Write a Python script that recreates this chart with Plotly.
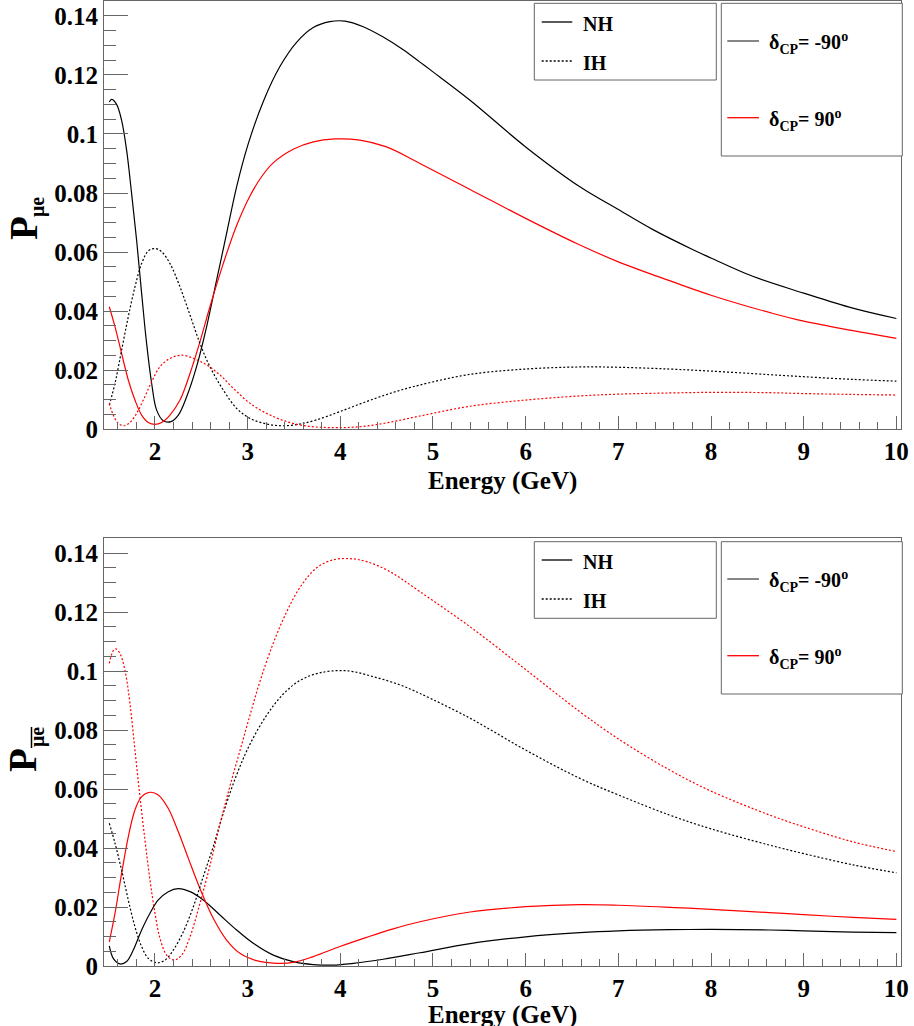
import plotly.graph_objects as go

# ---------------- data ----------------
# Top panel: P(mu->e), neutrinos
top_nh_m90_E = [1.507,1.533,1.586,1.640,1.694,1.748,1.802,1.856,1.910,1.964,2.018,2.09,2.173,2.252,2.342,2.449,2.557,2.665,2.773,2.881,3.007,3.169,3.348,3.528,3.708,3.888,4.05,4.247,4.463,4.679,4.859,5.0,5.4,6.0,6.585,7.0,7.374,7.806,8.0,8.45,9.0,9.53,10.0]
top_nh_m90_P = [0.1108,0.1117,0.110,0.1046,0.0945,0.0798,0.064,0.046,0.029,0.0156,0.0065,0.0029,0.0026,0.0048,0.011,0.0212,0.0347,0.0505,0.0663,0.0821,0.0967,0.1110,0.1228,0.1310,0.1360,0.1380,0.1382,0.1363,0.1328,0.1285,0.1243,0.1210,0.1114,0.0956,0.0821,0.0744,0.0676,0.0608,0.0580,0.0518,0.0461,0.0410,0.0375]

top_nh_p90_E = [1.507,1.569,1.640,1.712,1.784,1.856,1.928,2.0,2.072,2.162,2.27,2.378,2.485,2.593,2.737,2.881,3.025,3.15,3.276,3.492,3.708,3.942,4.211,4.499,4.859,5.4,6.0,6.55,7.0,7.59,8.0,8.67,9.0,9.53,10.0]
top_nh_p90_P = [0.0415,0.0347,0.0257,0.0167,0.0099,0.0048,0.0023,0.0017,0.0023,0.0048,0.0099,0.0189,0.0296,0.0415,0.0561,0.0690,0.0790,0.0855,0.0902,0.0948,0.0973,0.0983,0.0979,0.0956,0.0900,0.0812,0.0714,0.0629,0.0567,0.0499,0.0454,0.0392,0.0366,0.0334,0.0308]

top_ih_m90_E = [1.507,1.569,1.640,1.712,1.784,1.856,1.928,2.0,2.072,2.162,2.27,2.378,2.485,2.593,2.737,2.881,3.025,3.205,3.384,3.564,3.744,3.996,4.283,4.571,4.859,5.4,6.0,6.585,7.0,7.55,8.0,8.63,9.0,9.53,10.0]
top_ih_m90_P = [0.0082,0.0156,0.0268,0.0381,0.0482,0.0561,0.0604,0.0612,0.0601,0.0561,0.0482,0.0387,0.0291,0.0212,0.0133,0.0071,0.0037,0.0018,0.0012,0.0018,0.0032,0.006,0.0094,0.0125,0.0150,0.0186,0.0204,0.0211,0.0210,0.0204,0.0197,0.0185,0.0178,0.0169,0.0163]

top_ih_p90_E = [1.507,1.55,1.604,1.665,1.73,1.802,1.874,1.964,2.054,2.162,2.288,2.414,2.557,2.701,2.845,3.025,3.205,3.42,3.636,3.852,4.068,4.283,4.571,4.859,5.4,6.0,6.585,7.0,7.55,8.0,8.63,9.0,9.53,10.0]
top_ih_p90_P = [0.0088,0.0048,0.002,0.0012,0.0023,0.0054,0.0099,0.0161,0.0212,0.024,0.0251,0.024,0.0218,0.0184,0.0139,0.0088,0.0054,0.0026,0.0011,0.0006,0.0006,0.0011,0.0026,0.0045,0.0078,0.0099,0.0113,0.0119,0.0123,0.0125,0.0124,0.0121,0.0118,0.0116]

# Bottom panel: P(anti-mu -> anti-e), antineutrinos
bot_nh_m90_E = [1.507,1.55,1.622,1.694,1.766,1.856,1.946,2.036,2.144,2.252,2.378,2.521,2.701,2.881,3.061,3.277,3.492,3.708,3.924,4.14,4.463,4.859,5.4,6.0,6.585,7.0,7.55,8.0,8.63,9.0,9.53,10.0]
bot_nh_m90_P = [0.0068,0.0026,0.0007,0.0015,0.0054,0.0122,0.0179,0.0224,0.0252,0.0262,0.0252,0.0224,0.0173,0.0122,0.0077,0.0037,0.0015,0.0005,0.0003,0.0009,0.0023,0.0045,0.0076,0.0099,0.0113,0.0119,0.0123,0.0124,0.0122,0.0119,0.0115,0.0113]

bot_nh_p90_E = [1.507,1.569,1.640,1.712,1.784,1.856,1.946,2.036,2.144,2.252,2.36,2.485,2.629,2.773,2.917,3.097,3.312,3.492,3.708,3.996,4.283,4.571,4.859,5.4,6.0,6.585,7.0,7.55,8.0,8.63,9.0,9.53,10.0]
bot_nh_p90_P = [0.0082,0.0179,0.0314,0.0438,0.0529,0.0574,0.0589,0.058,0.0534,0.0455,0.0365,0.0263,0.0162,0.0088,0.0043,0.0018,0.0009,0.0012,0.0032,0.0066,0.0097,0.0126,0.0150,0.0183,0.0201,0.0208,0.0206,0.0199,0.0192,0.0181,0.0174,0.0165,0.0158]

bot_ih_m90_E = [1.507,1.569,1.640,1.712,1.784,1.856,1.928,2.018,2.108,2.198,2.306,2.414,2.521,2.629,2.737,2.881,3.025,3.205,3.384,3.564,3.78,4.068,4.355,4.643,4.859,5.4,6.0,6.585,7.0,7.55,8.0,8.63,9.0,9.53,10.0]
bot_ih_m90_P = [0.0484,0.0416,0.0325,0.0224,0.0133,0.0066,0.0026,0.0011,0.002,0.0054,0.0116,0.0201,0.0303,0.0405,0.0518,0.0648,0.0752,0.0850,0.0922,0.0968,0.0994,0.1001,0.0981,0.0953,0.0924,0.0840,0.0732,0.0636,0.0580,0.0512,0.0465,0.0410,0.0381,0.0343,0.0316]

bot_ih_p90_E = [1.507,1.55,1.579,1.622,1.676,1.73,1.784,1.838,1.892,1.946,2.0,2.054,2.126,2.205,2.288,2.378,2.485,2.593,2.701,2.809,2.917,3.025,3.133,3.277,3.42,3.564,3.744,3.924,4.104,4.283,4.535,4.859,5.4,6.0,6.585,7.0,7.55,8.0,8.63,9.0,9.53,10.0]
bot_ih_p90_P = [0.1026,0.1069,0.1075,0.106,0.1003,0.089,0.0732,0.0574,0.0427,0.0292,0.0179,0.0094,0.0037,0.002,0.0037,0.0099,0.0212,0.034,0.048,0.061,0.073,0.085,0.0965,0.1095,0.1200,0.1283,0.1350,0.1377,0.1381,0.1371,0.1337,0.1269,0.1150,0.1005,0.0862,0.0770,0.0665,0.0593,0.0512,0.0472,0.0421,0.0388]

x_tick_vals = [2, 3, 4, 5, 6, 7, 8, 9, 10]
x_tick_text = ["2", "3", "4", "5", "6", "7", "8", "9", "10"]
y_tick_vals = [0, 0.02, 0.04, 0.06, 0.08, 0.10, 0.12, 0.14]
y_tick_text = ["0", "0.02", "0.04", "0.06", "0.08", "0.1", "0.12", "0.14"]

# ---------------- layout helpers ----------------
W, H = 914, 1026
ML, MR, MT, MB = 104, 13, 1, 60
PW, PH = W - ML - MR, H - MT - MB

def px(x):  # pixel x -> paper
    return (x - ML) / PW

def py(y):  # pixel y -> paper
    return (H - MB - y) / PH

FONT = "Liberation Serif, Times New Roman, serif"
BLACK, RED = "#000000", "#ff0000"
AXC = "#666666"
LW = 1.2
DOT = "2px,2px"

fig = go.Figure()

def add_curve(E, P, color, dash, xa, ya):
    fig.add_trace(go.Scatter(
        x=E, y=P, mode="lines", xaxis=xa, yaxis=ya, showlegend=False,
        line=dict(color=color, width=LW, dash=dash, shape="spline", smoothing=1.0),
        hoverinfo="skip"))

add_curve(top_nh_m90_E, top_nh_m90_P, BLACK, "solid", "x", "y")
add_curve(top_nh_p90_E, top_nh_p90_P, RED, "solid", "x", "y")
add_curve(top_ih_m90_E, top_ih_m90_P, BLACK, DOT, "x", "y")
add_curve(top_ih_p90_E, top_ih_p90_P, RED, DOT, "x", "y")

add_curve(bot_nh_m90_E, bot_nh_m90_P, BLACK, "solid", "x2", "y2")
add_curve(bot_nh_p90_E, bot_nh_p90_P, RED, "solid", "x2", "y2")
add_curve(bot_ih_m90_E, bot_ih_m90_P, BLACK, DOT, "x2", "y2")
add_curve(bot_ih_p90_E, bot_ih_p90_P, RED, DOT, "x2", "y2")

tickfont = dict(family=FONT, size=25, color="black", weight="bold")

def xaxis(anchor):
    return dict(anchor=anchor, domain=[0, 1], range=[1.45, 10.05],
                tickvals=x_tick_vals, ticktext=x_tick_text,
                ticks="inside", ticklen=13, tickcolor=AXC, tickwidth=1,
                minor=dict(dtick=0.2, tick0=0, ticks="inside", ticklen=7, tickcolor=AXC, showgrid=False),
                showline=True, linecolor=AXC, linewidth=1, mirror=True,
                showgrid=False, zeroline=False, tickfont=tickfont)

def yaxis(anchor, dom):
    return dict(anchor=anchor, domain=dom, range=[0, 0.145],
                tickvals=y_tick_vals, ticktext=y_tick_text,
                ticks="inside", ticklen=24, tickcolor=AXC, tickwidth=1,
                minor=dict(dtick=0.005, tick0=0, ticks="inside", ticklen=12, tickcolor=AXC, showgrid=False),
                showline=True, linecolor=AXC, linewidth=1, mirror=True,
                showgrid=False, zeroline=False, tickfont=tickfont)

top_dom = [py(429.3), py(1)]
bot_dom = [py(966), py(538.3)]

shapes = []
annotations = []

def text(x, y, s, size, xanchor="left", angle=0):
    annotations.append(dict(xref="paper", yref="paper", x=px(x), y=py(y), text=s,
                            showarrow=False, xanchor=xanchor, yanchor="middle",
                            textangle=angle,
                            font=dict(family=FONT, size=size, color="black", weight="bold")))

def hline(x0, x1, y, color, dash="solid", width=1.3):
    shapes.append(dict(type="line", xref="paper", yref="paper", x0=px(x0), x1=px(x1),
                       y0=py(y), y1=py(y), line=dict(color=color, width=width, dash=dash)))

def box(x0, y0, x1, y1):
    shapes.append(dict(type="rect", xref="paper", yref="paper", x0=px(x0), x1=px(x1),
                       y0=py(y1), y1=py(y0), line=dict(color=AXC, width=1),
                       fillcolor="white", layer="above"))

def legends(dy, nh_y, ih_y, m90_y, p90_y, b1_bot, b2_bot):
    box(534.3, 3.3 + dy, 716.3, b1_bot)
    box(721.3, 3.3 + dy, 902.3, b2_bot)
    hline(541.7, 572.3, nh_y, BLACK)
    hline(541.7, 572.3, ih_y, BLACK, DOT)
    text(580.7, nh_y + 2, "NH", 20)
    text(580.7, ih_y + 2, "IH", 20)
    hline(727.3, 759, m90_y, "#444444")
    hline(727.3, 759, p90_y, RED)
    text(766.7, m90_y + 2, "δ<sub>CP</sub>= -90<sup>o</sup>", 20)
    text(766.7, p90_y + 2, "δ<sub>CP</sub>= 90<sup>o</sup>", 20)

legends(0, 22, 61, 41, 117.7, 80, 156)
legends(538.4, 560, 599, 579, 655.7, 618.3, 694)

# axis titles
text(502.5, 481, "Energy (GeV)", 25, xanchor="center")
text(502.5, 1015, "Energy (GeV)", 25, xanchor="center")
# y titles: P with subscript
text(23, 228, "P", 39, xanchor="center", angle=-90)
text(37, 207, "μe", 20, xanchor="center", angle=-90)
text(22, 760, "P", 39, xanchor="center", angle=-90)
text(37, 737, "μe", 20, xanchor="center", angle=-90)
shapes.append(dict(type="line", xref="paper", yref="paper", x0=px(31.5), x1=px(31.5),
                   y0=py(727), y1=py(748), line=dict(color="black", width=1.5)))

fig.update_layout(
    width=W, height=H,
    margin=dict(l=ML, r=MR, t=MT, b=MB, autoexpand=False),
    paper_bgcolor="white", plot_bgcolor="white",
    xaxis=xaxis("y"), yaxis=yaxis("x", top_dom),
    xaxis2=xaxis("y2"), yaxis2=yaxis("x2", bot_dom),
    shapes=shapes, annotations=annotations,
    showlegend=False,
)

fig.write_html(
    "out.html",
    config={"displayModeBar": False},
    post_script=("document.documentElement.style.overflow='hidden';"
                 "document.body.style.margin='0';"
                 "document.body.style.padding='0';"
                 "document.body.style.overflow='hidden';"),
)
